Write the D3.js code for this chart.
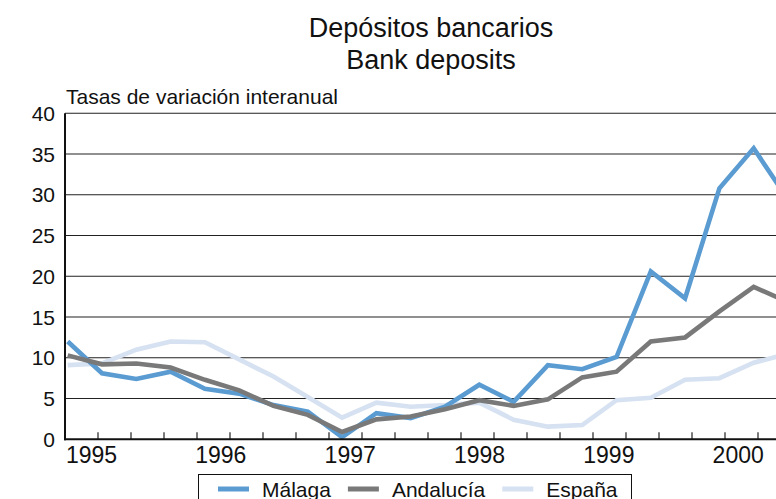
<!DOCTYPE html>
<html><head><meta charset="utf-8">
<script src="https://cdn.jsdelivr.net/npm/d3@7"></script>
<style>
html,body{margin:0;padding:0;background:#fff;overflow:hidden}
svg{display:block;font-family:"Liberation Sans",Arial,Helvetica,sans-serif}
</style></head>
<body>
<script>
// ---- data ----
const quarters = ["1995T1","1995T2","1995T3","1995T4","1996T1","1996T2","1996T3","1996T4",
  "1997T1","1997T2","1997T3","1997T4","1998T1","1998T2","1998T3","1998T4",
  "1999T1","1999T2","1999T3","1999T4","2000T1","2000T2"];
const malaga    = [12.0, 8.1, 7.4, 8.3, 6.2, 5.6, 4.2, 3.4, 0.25, 3.2, 2.6, 4.0, 6.7, 4.6, 9.1, 8.6, 10.1, 20.6, 17.3, 30.8, 35.7, 29.4];
const andalucia = [10.3, 9.2, 9.3, 8.8, 7.3, 6.0, 4.1, 3.0, 0.9, 2.45, 2.8, 3.7, 4.8, 4.1, 4.9, 7.6, 8.3, 12.0, 12.5, 15.7, 18.7, 16.85];
const espana    = [9.1, 9.3, 11.0, 12.0, 11.9, 9.8, 7.7, 5.2, 2.65, 4.5, 4.0, 4.2, 4.5, 2.4, 1.55, 1.75, 4.8, 5.1, 7.3, 7.5, 9.4, 10.5];
const yearLabels = ["1995","1996","1997","1998","1999","2000"];
const yTicks = [0,5,10,15,20,25,30,35,40];
const quarterTicks = d3.range(1, 22);
const seriesNames = ["Málaga","Andalucía","España"];
const titleLines = ["Depósitos bancarios","Bank deposits"];
const yAxisTitle = "Tasas de variación interanual";

// ---- layout ----
const W = 776, H = 499;
const colors = {"Málaga":"#5a9bd1","Andalucía":"#797979","España":"#d6e1f1"};
const svg = d3.select("body").append("svg").attr("width", W).attr("height", H);

const y = d3.scaleLinear().domain([0, 40]).range([439.3, 113.3]);
const x = d3.scalePoint().domain(quarters).range([67.7, 788]);
const xq = d3.scaleLinear().domain([0, 1]).range([65, 98]);
const xy = d3.scalePoint().domain(yearLabels).range([91.5, 738.2]);

// title
svg.append("g").selectAll("text").data(titleLines).join("text")
  .attr("x", 431).attr("y", (d,i) => 37 + i*32)
  .attr("text-anchor","middle").attr("font-size", 27).attr("fill","#111").text(d => d);

// axis title
svg.append("text").attr("x", 66).attr("y", 104).attr("font-size", 21).attr("fill","#111").text(yAxisTitle);

// gridlines
svg.append("g").selectAll("line").data(yTicks.filter(d => d > 0)).join("line")
  .attr("x1", 65).attr("x2", W).attr("y1", d => y(d)).attr("y2", d => y(d))
  .attr("stroke", "#222").attr("stroke-width", 1.1);

// y labels
svg.append("g").selectAll("text").data(yTicks).join("text")
  .attr("x", 55).attr("y", d => y(d)).attr("dy", "0.36em")
  .attr("text-anchor","end").attr("font-size", 21).attr("fill","#111").text(d => d);

// x ticks (quarterly, pointing up into plot)
svg.append("g").selectAll("line").data(quarterTicks).join("line")
  .attr("x1", d => xq(d)).attr("x2", d => xq(d)).attr("y1", y(0)).attr("y2", y(0) - 7)
  .attr("stroke", "#222").attr("stroke-width", 1.2);

// year labels
svg.append("g").selectAll("text").data(yearLabels).join("text")
  .attr("x", d => xy(d)).attr("y", 462.5).attr("text-anchor","middle")
  .attr("font-size", 23).attr("fill","#111").text(d => d);

// lines
const line = d3.line().x((d,i) => x(quarters[i])).y(d => y(d));
const seriesData = {"Málaga": malaga, "Andalucía": andalucia, "España": espana};
["España","Málaga","Andalucía"].forEach(name => {
  svg.append("path").datum(seriesData[name]).attr("d", line)
    .attr("fill","none").attr("stroke", colors[name]).attr("stroke-width", 4.6)
    .attr("stroke-linejoin","miter").attr("stroke-miterlimit", 10);
});

// axes
svg.append("line").attr("x1", 65).attr("x2", 65).attr("y1", y(40)).attr("y2", y(0) + 1)
  .attr("stroke","#111").attr("stroke-width", 2);
svg.append("line").attr("x1", 64).attr("x2", W).attr("y1", y(0)).attr("y2", y(0))
  .attr("stroke","#111").attr("stroke-width", 2);

// legend
const lg = svg.append("g");
lg.append("rect").attr("x", 198.5).attr("y", 474.5).attr("width", 433).attr("height", 40)
  .attr("fill","#fff").attr("stroke","#111").attr("stroke-width", 1);
let cx = 218;
seriesNames.forEach(name => {
  lg.append("line").attr("x1", cx).attr("x2", cx + 31).attr("y1", 489).attr("y2", 489)
    .attr("stroke", colors[name]).attr("stroke-width", 5);
  const t = lg.append("text").attr("x", cx + 44).attr("y", 497).attr("font-size", 21)
    .attr("fill","#111").text(name);
  cx = cx + 44 + t.node().getComputedTextLength() + 17;
});
</script>
</body></html>
